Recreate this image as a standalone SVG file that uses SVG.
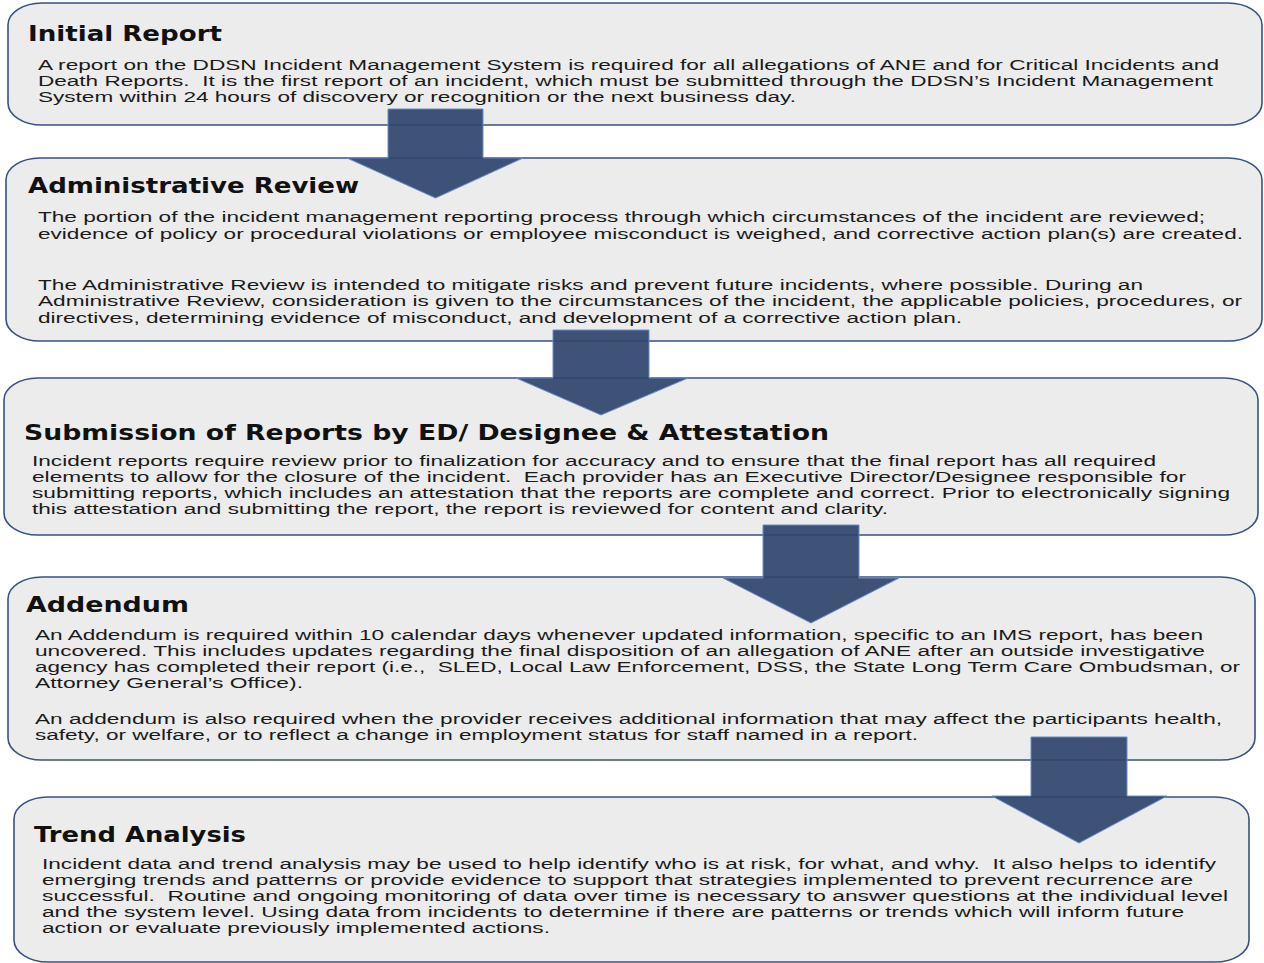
<svg xmlns="http://www.w3.org/2000/svg" width="1264" height="963" viewBox="0 0 1264 963" xml:space="preserve">
<style>
.box{fill:#ececec;stroke:#38527f;stroke-width:1.6}
.h{font-family:"DejaVu Sans","Liberation Sans",sans-serif;font-weight:bold;font-size:21.5px;fill:#111}
.b{font-family:"Liberation Sans",Arial,sans-serif;font-size:15.5px;fill:#1a1a1a;white-space:pre}
.arrow{fill:#30466e;fill-opacity:0.93;stroke:#6a8cc8;stroke-width:1}
</style>
<rect width="1264" height="963" fill="#ffffff"/>

<g id="node-initial-report">
<rect class="box" x="8" y="3" width="1254" height="122" rx="34" ry="22"/>
<text class="h" x="28" y="41" textLength="194" lengthAdjust="spacingAndGlyphs">Initial Report</text>
<text class="b" x="38" y="70" textLength="1181" lengthAdjust="spacingAndGlyphs">A report on the DDSN Incident Management System is required for all allegations of ANE and for Critical Incidents and</text>
<text class="b" x="38" y="86" textLength="1175" lengthAdjust="spacingAndGlyphs">Death Reports.  It is the first report of an incident, which must be submitted through the DDSN’s Incident Management</text>
<text class="b" x="38" y="102" textLength="758" lengthAdjust="spacingAndGlyphs">System within 24 hours of discovery or recognition or the next business day.</text>
</g>

<g id="node-administrative-review">
<rect class="box" x="6" y="158" width="1256" height="183" rx="34" ry="22"/>
<text class="h" x="28" y="193" textLength="331" lengthAdjust="spacingAndGlyphs">Administrative Review</text>
<text class="b" x="38" y="222" textLength="1167" lengthAdjust="spacingAndGlyphs">The portion of the incident management reporting process through which circumstances of the incident are reviewed;</text>
<text class="b" x="38" y="239" textLength="1205" lengthAdjust="spacingAndGlyphs">evidence of policy or procedural violations or employee misconduct is weighed, and corrective action plan(s) are created.</text>
<text class="b" x="38" y="290" textLength="1105" lengthAdjust="spacingAndGlyphs">The Administrative Review is intended to mitigate risks and prevent future incidents, where possible. During an</text>
<text class="b" x="38" y="306" textLength="1204" lengthAdjust="spacingAndGlyphs">Administrative Review, consideration is given to the circumstances of the incident, the applicable policies, procedures, or</text>
<text class="b" x="38" y="323" textLength="924" lengthAdjust="spacingAndGlyphs">directives, determining evidence of misconduct, and development of a corrective action plan.</text>
</g>

<g id="node-submission">
<rect class="box" x="4" y="378" width="1254" height="157" rx="34" ry="22"/>
<text class="h" x="24" y="440" textLength="805" lengthAdjust="spacingAndGlyphs">Submission of Reports by ED/ Designee &amp; Attestation</text>
<text class="b" x="32" y="466" textLength="1124" lengthAdjust="spacingAndGlyphs">Incident reports require review prior to finalization for accuracy and to ensure that the final report has all required</text>
<text class="b" x="32" y="482" textLength="1154" lengthAdjust="spacingAndGlyphs">elements to allow for the closure of the incident.  Each provider has an Executive Director/Designee responsible for</text>
<text class="b" x="32" y="498" textLength="1198" lengthAdjust="spacingAndGlyphs">submitting reports, which includes an attestation that the reports are complete and correct. Prior to electronically signing</text>
<text class="b" x="32" y="514" textLength="856" lengthAdjust="spacingAndGlyphs">this attestation and submitting the report, the report is reviewed for content and clarity.</text>
</g>

<g id="node-addendum">
<rect class="box" x="8" y="577" width="1247" height="183" rx="34" ry="22"/>
<text class="h" x="26" y="612" textLength="163" lengthAdjust="spacingAndGlyphs">Addendum</text>
<text class="b" x="35" y="640" textLength="1168" lengthAdjust="spacingAndGlyphs">An Addendum is required within 10 calendar days whenever updated information, specific to an IMS report, has been</text>
<text class="b" x="35" y="656" textLength="1170" lengthAdjust="spacingAndGlyphs">uncovered. This includes updates regarding the final disposition of an allegation of ANE after an outside investigative</text>
<text class="b" x="35" y="672" textLength="1205" lengthAdjust="spacingAndGlyphs">agency has completed their report (i.e.,  SLED, Local Law Enforcement, DSS, the State Long Term Care Ombudsman, or</text>
<text class="b" x="35" y="688" textLength="268" lengthAdjust="spacingAndGlyphs">Attorney General’s Office).</text>
<text class="b" x="35" y="724" textLength="1187" lengthAdjust="spacingAndGlyphs">An addendum is also required when the provider receives additional information that may affect the participants health,</text>
<text class="b" x="35" y="740" textLength="883" lengthAdjust="spacingAndGlyphs">safety, or welfare, or to reflect a change in employment status for staff named in a report.</text>
</g>

<g id="node-trend-analysis">
<rect class="box" x="14" y="797" width="1235" height="165" rx="34" ry="22"/>
<text class="h" x="34" y="842" textLength="212" lengthAdjust="spacingAndGlyphs">Trend Analysis</text>
<text class="b" x="42" y="869" textLength="1174" lengthAdjust="spacingAndGlyphs">Incident data and trend analysis may be used to help identify who is at risk, for what, and why.  It also helps to identify</text>
<text class="b" x="42" y="885" textLength="1151" lengthAdjust="spacingAndGlyphs">emerging trends and patterns or provide evidence to support that strategies implemented to prevent recurrence are</text>
<text class="b" x="42" y="901" textLength="1186" lengthAdjust="spacingAndGlyphs">successful.  Routine and ongoing monitoring of data over time is necessary to answer questions at the individual level</text>
<text class="b" x="42" y="917" textLength="1142" lengthAdjust="spacingAndGlyphs">and the system level. Using data from incidents to determine if there are patterns or trends which will inform future</text>
<text class="b" x="42" y="933" textLength="508" lengthAdjust="spacingAndGlyphs">action or evaluate previously implemented actions.</text>
</g>

<g id="connectors">
<polygon class="arrow" points="388,109 483,109 483,158 523,158 435.5,198 347,158 388,158"/>
<polygon class="arrow" points="553,330 649,330 649,378 688,378 601,415 516,378 553,378"/>
<polygon class="arrow" points="763,525 859,525 859,578 899,578 811,623 723,578 763,578"/>
<polygon class="arrow" points="1031,737 1127,737 1127,796 1167,796 1079,843 992,796 1031,796"/>
</g>
</svg>
